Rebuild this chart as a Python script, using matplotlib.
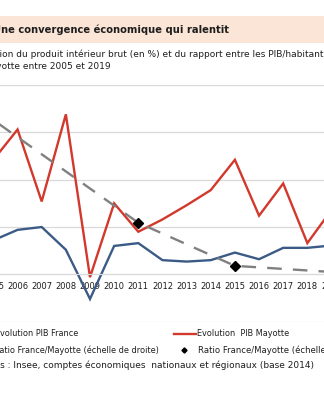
import matplotlib
matplotlib.use('agg')
import matplotlib.pyplot as plt
from matplotlib.lines import Line2D
from matplotlib.patches import Rectangle

years = list(range(2005, 2020))
# growth of GDP, in %
pib_france = [3.6, 4.7, 5.0, 2.6, -2.6, 3.0, 3.3, 1.5, 1.35, 1.5, 2.3, 1.6, 2.8, 2.8, 3.05]
pib_mayotte = [12.1, 15.3, 7.7, 16.9, -0.3, 7.5, 4.5, 5.8, 7.3, 8.9, 12.1, 6.2, 9.6, 3.3, 6.8]
# GDP per inhabitant ratio France/Mayotte (right scale)
ratio_years = [2005, 2011, 2015, 2019]
ratio = [6.26, 4.09, 3.18, 3.05]
point_years = [2011, 2015]
point_ratio = [4.09, 3.18]

W, H = 324, 400
RED = '#d2382b'
BLUE = '#3b5b86'
GREY = '#808080'
TXT = '#1e1e1e'

plt.rcParams['font.family'] = 'DejaVu Sans'
fig = plt.figure(figsize=(W / 100, H / 100), dpi=100)


def px(x, y):
    return x / W, 1 - y / H


def cut_text(x, y, hidden, shown, **kw):
    # place the full string so that `shown` starts at pixel x
    r = fig.canvas.get_renderer()
    probe = fig.text(0, 0, hidden, **kw)
    w = probe.get_window_extent(r).width
    probe.remove()
    fig.text((x - w) / W, 1 - y / H, hidden + shown, va='center', color=TXT, **kw)


# title band
fig.patches.append(Rectangle(px(0, 43), 1, 27 / H, transform=fig.transFigure,
                             facecolor='#fbe5d6', edgecolor='none', zorder=0))
cut_text(1, 30, 'U', 'ne convergence économique qui ralentit', fontsize=7.2, fontweight='bold')
cut_text(2, 54, 'Évoluti', 'on du produit intérieur brut (en %) et du rapport entre les PIB/habitant de France et de',
         fontsize=6.45)
cut_text(2, 66.5, 'May', 'otte entre 2005 et 2019', fontsize=6.45)

# plot area: years 2004.5 -> 2019.5, values -5 -> 20
x0 = 90 - 4.5 * 24.15
x1 = 90 + 10.5 * 24.15
ax = fig.add_axes([x0 / W, 1 - 321.7 / H, (x1 - x0) / W, (321.7 - 85) / H])
ax.set_xlim(2004.5, 2019.5)
ax.set_ylim(-5, 20)
ax.set_yticks(range(-5, 21, 5))
ax.grid(axis='y', color='#d9d9d9', lw=0.9)
ax.set_axisbelow(True)
for s in ['top', 'left', 'right']:
    ax.spines[s].set_visible(False)
ax.spines['bottom'].set_position(('data', 0))
ax.spines['bottom'].set_color('#d9d9d9')
ax.set_xticks(years)
ax.tick_params(axis='x', length=0, pad=5.4, labelsize=6.0, labelcolor=TXT)
ax.tick_params(axis='y', length=0, labelleft=False)

ax.plot(years, pib_france, color=BLUE, lw=1.7, solid_joinstyle='miter')
ax.plot(years, pib_mayotte, color=RED, lw=1.7, solid_joinstyle='miter')

ax2 = ax.twinx()
ax2.set_ylim(2, 7)
for s in ax2.spines.values():
    s.set_visible(False)
ax2.tick_params(length=0, labelright=False)
ax2.plot(ratio_years, ratio, color=GREY, lw=1.7, dashes=(6.2, 4.7))
ax2.plot(point_years, point_ratio, 'D', color='black', ms=5.5)

# legend, drawn by hand in two columns
fig.add_artist(Line2D([174 / W, 196 / W], [1 - 334 / H] * 2, color=RED, lw=1.7))
fig.add_artist(Line2D([184 / W], [1 - 350 / H], marker='D', color='black', ms=2.6))
cut_text(0, 334, 'E', 'volution PIB France', fontsize=5.9)
cut_text(0, 350, 'R', 'atio France/Mayotte (échelle de droite)', fontsize=5.9)
fig.text(197 / W, 1 - 334 / H, 'Evolution  PIB Mayotte', va='center', color=TXT, fontsize=5.9)
fig.text(198 / W, 1 - 350 / H, 'Ratio France/Mayotte (échelle de droite)', va='center', color=TXT,
         fontsize=6.1)
cut_text(0, 365.5, 'Source', 's : Insee, comptes économiques  nationaux et régionaux (base 2014)',
         fontsize=6.5)

fig.savefig('out.png', dpi=100)
